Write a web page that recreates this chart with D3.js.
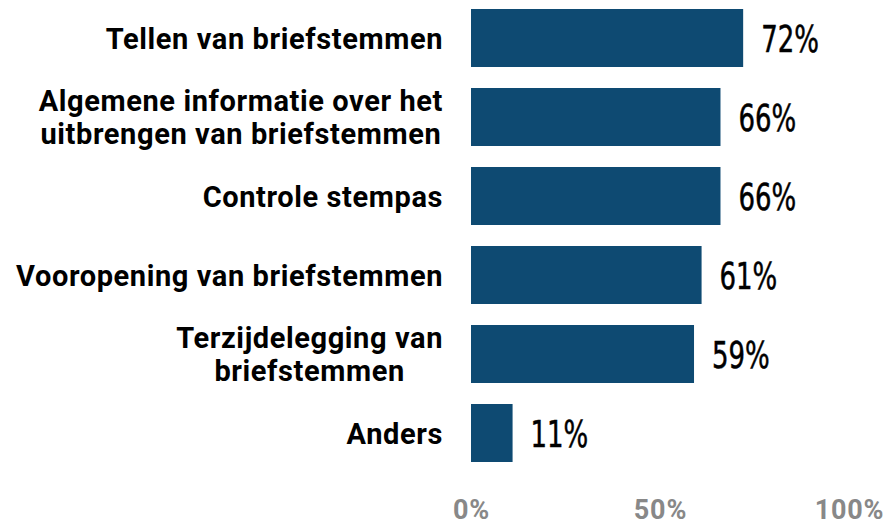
<!DOCTYPE html>
<html><head><meta charset="utf-8">
<script src="https://cdn.jsdelivr.net/npm/d3@7"></script>
<style>
html,body{margin:0;padding:0;background:#fff;}
svg{display:block;}
</style></head>
<body>
<svg id="chart" width="889" height="526"></svg>
<script>
const categories = [
  "Tellen van briefstemmen",
  "Algemene informatie over het\nuitbrengen van briefstemmen",
  "Controle stempas",
  "Vooropening van briefstemmen",
  "Terzijdelegging van\nbriefstemmen",
  "Anders"
];
const values = [72, 66, 66, 61, 59, 11];
const ticks = [0, 50, 100];

const svg = d3.select("#chart");
const x = d3.scaleLinear().domain([0, 100]).range([471, 849]);
const y = d3.scaleBand().domain(categories).range([-1.5, 472.5])
  .paddingInner(21/79).paddingOuter(21/158);

const catFont = "Roboto, 'DejaVu Sans', sans-serif";
const valFont = "'Liberation Sans Narrow', 'DejaVu Sans Condensed', sans-serif";

// bars
svg.append("g").selectAll("rect").data(categories).join("rect")
  .attr("x", x(0))
  .attr("y", d => y(d))
  .attr("width", (d, i) => x(values[i]) - x(0))
  .attr("height", y.bandwidth())
  .attr("fill", "#0e4a72");

// category labels: block right-aligned, lines centred within block
const lineH = 33;
const labelRight = 443;
svg.append("g").selectAll("text").data(categories).join("text")
  .attr("text-anchor", "middle")
  .attr("font-family", catFont)
  .attr("font-weight", 700)
  .attr("font-size", 29)
  .attr("letter-spacing", 0.6)
  .attr("fill", "#000")
  .each(function(d) {
    const lines = d.split("\n");
    const c = y(d) + y.bandwidth() / 2;
    const first = c + 10.5 - (lines.length - 1) * lineH / 2;
    const ts = d3.select(this).selectAll("tspan").data(lines).join("tspan")
      .attr("y", (l, j) => first + j * lineH)
      .text(l => l);
    let maxW = 0;
    ts.each(function() { maxW = Math.max(maxW, this.getComputedTextLength()); });
    ts.attr("x", labelRight - maxW / 2);
  });

// value labels
svg.append("g").selectAll("text").data(categories).join("text")
  .attr("transform", (d, i) => `translate(${x(values[i]) + 18},${y(d) + y.bandwidth() / 2 + 13.5}) scale(0.78,1)`)
  .attr("font-family", valFont)
  .attr("font-size", 37)
  .attr("fill", "#000")
  .attr("stroke", "#000")
  .attr("stroke-width", 0.5)
  .text((d, i) => values[i] + "%");

// axis tick labels
const axis = d3.axisBottom(x).tickValues(ticks).tickFormat(d => d + "%").tickSize(0).tickPadding(0);
const ag = svg.append("g").call(axis);
ag.select(".domain").remove();
ag.selectAll("text")
  .attr("y", 519).attr("dy", null)
  .attr("font-family", catFont)
  .attr("font-weight", 700)
  .attr("font-size", 27)
  .attr("letter-spacing", 0.8)
  .attr("fill", "#888");
</script>
</body></html>
